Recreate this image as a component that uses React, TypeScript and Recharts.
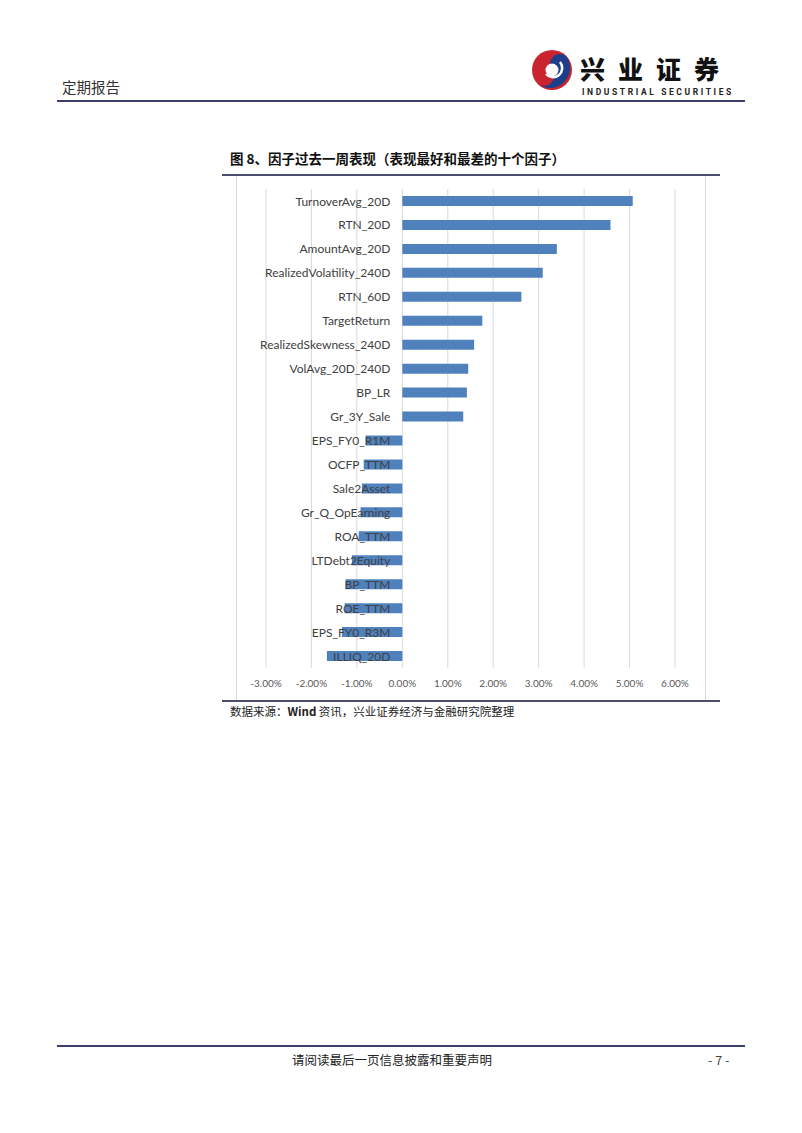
import React from "react";
import { BarChart, Bar, XAxis, YAxis, CartesianGrid, LabelList } from "recharts";

// factor names, top to bottom as shown
const factorNames = [
  "TurnoverAvg_20D",
  "RTN_20D",
  "AmountAvg_20D",
  "RealizedVolatility_240D",
  "RTN_60D",
  "TargetReturn",
  "RealizedSkewness_240D",
  "VolAvg_20D_240D",
  "BP_LR",
  "Gr_3Y_Sale",
  "EPS_FY0_R1M",
  "OCFP_TTM",
  "Sale2Asset",
  "Gr_Q_OpEarning",
  "ROA_TTM",
  "LTDebt2Equity",
  "BP_TTM",
  "ROE_TTM",
  "EPS_FY0_R3M",
  "ILLIQ_20D",
];

// weekly return, in %
const weeklyReturn = [
  5.07, 4.58, 3.4, 3.09, 2.62, 1.76, 1.58, 1.45, 1.42, 1.34,
  -0.81, -0.85, -0.89, -0.92, -0.96, -1.11, -1.25, -1.27, -1.33, -1.66,
];

const xTicks = [-3, -2, -1, 0, 1, 2, 3, 4, 5, 6];

const data = factorNames.map((name, i) => ({ name, value: weeklyReturn[i] }));

const CJK = '"Noto Sans CJK SC", "Noto Sans", sans-serif';
const LATIN = 'Lato, "Open Sans", sans-serif';

// category label sits just left of the zero line, like Excel "next to axis"
const NameLabel = (props: any) => {
  const vb = props.viewBox || {};
  const x = vb.x ?? props.x;
  const y = vb.y ?? props.y;
  const w = vb.width ?? props.width;
  const h = vb.height ?? props.height;
  const idx = props.index;
  const v = weeklyReturn[idx] ?? 0;
  const zero = v < 0 && w > 0 ? x + w : x;
  return (
    <text
      x={zero - 12}
      y={y + h / 2}
      textAnchor="end"
      dominantBaseline="central"
      fontSize={12}
      fontFamily={LATIN}
      fill="#404040"
    >
      {props.value}
    </text>
  );
};

const Logo = () => (
  <svg width={44} height={44} viewBox="-22 -22 44 44" style={{ position: "absolute", left: 530, top: 48 }}>
    <circle r={20} fill="#c9252f" />
    <path d="M 14 -14 A 20 20 0 0 1 -14 14 A 10 10 0 0 0 0 0 A 10 10 0 0 1 14 -14 Z" fill="#1d3f8a" />
    <circle r={6.5} fill="#fff" />
    <path d="M -6 4 A 9 9 0 0 0 8 -8" stroke="#fff" strokeWidth={2.5} fill="none" />
  </svg>
);

export default function App() {
  return (
    <div style={{ position: "absolute", left: 0, top: 0, width: 802, height: 1133, background: "#fff" }}>
      {/* header */}
      <div style={{ position: "absolute", left: 62, top: 76, fontFamily: CJK, fontSize: 14.5, color: "#333" }}>
        定期报告
      </div>
      <Logo />
      <div
        style={{
          position: "absolute",
          left: 580,
          top: 55,
          fontFamily: CJK,
          fontSize: 25,
          fontWeight: 900,
          letterSpacing: 13,
          color: "#111",
          lineHeight: "26px",
          whiteSpace: "nowrap",
        }}
      >
        兴业证券
      </div>
      <div
        style={{
          position: "absolute",
          left: 582,
          top: 87,
          fontFamily: "Roboto, sans-serif",
          fontSize: 8.5,
          fontWeight: 700,
          letterSpacing: 2.6,
          color: "#222",
          lineHeight: "10px",
          whiteSpace: "nowrap",
        }}
      >
        INDUSTRIAL SECURITIES
      </div>
      <div style={{ position: "absolute", left: 57, top: 100, width: 688, height: 2, background: "#3b3f6b" }} />

      {/* figure title */}
      <div
        style={{
          position: "absolute",
          left: 230,
          top: 148,
          fontFamily: CJK,
          fontSize: 13.5,
          fontWeight: 700,
          color: "#111",
          whiteSpace: "nowrap",
        }}
      >
        图 8、因子过去一周表现（表现最好和最差的十个因子）
      </div>
      <div style={{ position: "absolute", left: 222, top: 174, width: 498, height: 2, background: "#4a4d6e" }} />
      <div style={{ position: "absolute", left: 236, top: 176, width: 1, height: 524, background: "#d9d9d9" }} />
      <div style={{ position: "absolute", left: 705, top: 176, width: 1, height: 524, background: "#d9d9d9" }} />

      <div style={{ position: "absolute", left: 236, top: 176 }}>
        <BarChart
          width={469}
          height={524}
          data={data}
          layout="vertical"
          margin={{ top: 13, right: 30, bottom: 0, left: 30 }}
        >
          <CartesianGrid horizontal={false} stroke="#d9d9d9" />
          <XAxis
            type="number"
            domain={[-3, 6]}
            ticks={xTicks}
            interval={0}
            axisLine={false}
            tickLine={false}
            tickMargin={6}
            height={32}
            tickFormatter={(v: number) => `${v.toFixed(2)}%`}
            tick={{ fontSize: 10, fontFamily: LATIN, fill: "#595959" }}
          />
          <YAxis type="category" dataKey="name" hide />
          <Bar dataKey="value" fill="#4f81bd" barSize={10} isAnimationActive={false}>
            <LabelList dataKey="name" content={NameLabel} />
          </Bar>
        </BarChart>
      </div>

      <div style={{ position: "absolute", left: 222, top: 700, width: 498, height: 2, background: "#4a4d6e" }} />
      <div
        style={{
          position: "absolute",
          left: 230,
          top: 703,
          fontFamily: CJK,
          fontSize: 11.5,
          color: "#222",
          whiteSpace: "nowrap",
        }}
      >
        数据来源：<b>Wind</b> 资讯，兴业证券经济与金融研究院整理
      </div>

      {/* footer */}
      <div style={{ position: "absolute", left: 57, top: 1045, width: 688, height: 2, background: "#3b3f6b" }} />
      <div
        style={{
          position: "absolute",
          left: 0,
          width: 784,
          top: 1050,
          textAlign: "center",
          fontFamily: CJK,
          fontSize: 12.5,
          color: "#222",
        }}
      >
        请阅读最后一页信息披露和重要声明
      </div>
      <div style={{ position: "absolute", left: 708, top: 1050, fontFamily: CJK, fontSize: 12.5, color: "#444" }}>
        - 7 -
      </div>
    </div>
  );
}
